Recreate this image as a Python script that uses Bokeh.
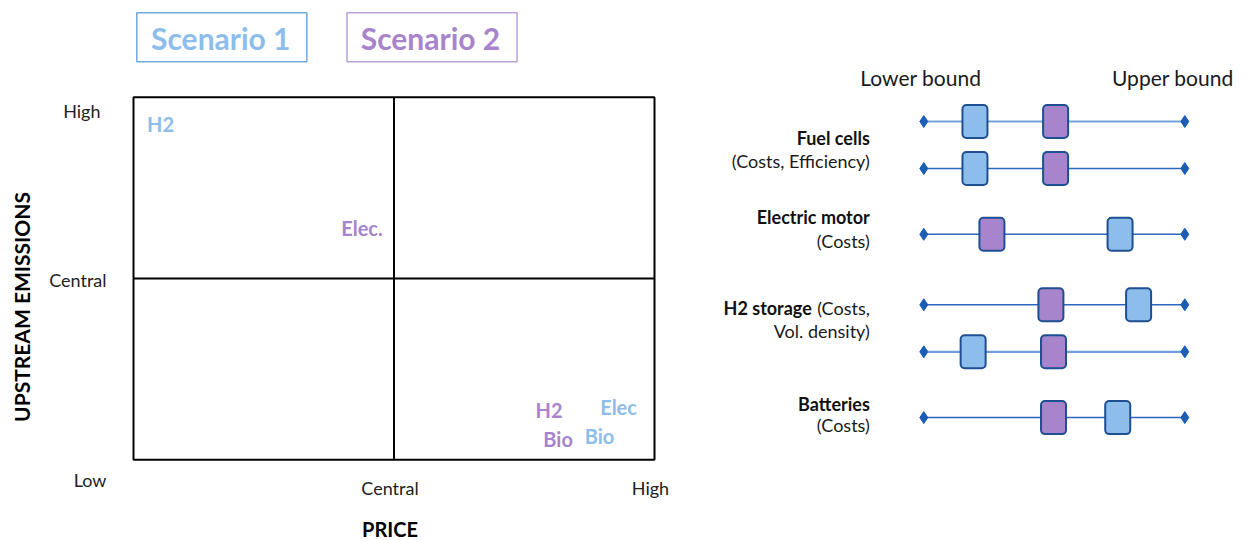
import math
from bokeh.plotting import figure
from bokeh.layouts import row
from bokeh.models import Range1d, ColumnDataSource
from bokeh.core.properties import value
from bokeh.embed import file_html
from bokeh.resources import INLINE

FONT = value("Lato")
BLUE = "#8DBDEB"
PURPLE = "#A884CC"
BLUE_EDGE = "#6FA8E2"
PURPLE_EDGE = "#BBA0DA"
DARK = "#222222"

# ---------------- data: quadrant (price vs upstream emissions) ----------------
levels = ["Low", "Central", "High"]          # 0, 1, 2 on both axes
level_values = [0, 1, 2]
scenarios = ["Scenario 1", "Scenario 2"]

s1_labels = ["H2", "Elec", "Bio"]
s1_price = [0.104, 1.862, 1.789]
s1_emis = [1.852, 0.290, 0.129]

s2_labels = ["Elec.", "H2", "Bio"]
s2_price = [0.877, 1.595, 1.630]
s2_emis = [1.276, 0.272, 0.117]

# ---------------- data: technology assumptions (lower..upper bound) ----------------
tech_rows = ["Fuel cells (Costs)", "Fuel cells (Efficiency)", "Electric motor (Costs)",
             "H2 storage (Costs)", "H2 storage (Vol. density)", "Batteries (Costs)"]
lower_bound = [0, 0, 0, 0, 0, 0]
upper_bound = [1, 1, 1, 1, 1, 1]
tech_s1 = [0.196, 0.196, 0.752, 0.823, 0.189, 0.743]
tech_s2 = [0.505, 0.505, 0.261, 0.487, 0.497, 0.497]

H = 540

# ---------------- left figure ----------------
L = figure(width=708, height=H, output_backend="svg", toolbar_location=None,
           x_range=Range1d(-0.51056, 2.2073), y_range=Range1d(2.5334 - H / 181.3, 2.5334),
           x_axis_type=None, y_axis_type=None, min_border=0, title=None)
L.outline_line_color = None
L.grid.visible = False
L.background_fill_color = "white"

# quadrant box and central lines
L.quad(left=[level_values[0]], right=[level_values[-1]], bottom=[level_values[0]], top=[level_values[-1]],
       fill_color=None, line_color="black", line_width=2)
L.segment(x0=[level_values[1], level_values[0]], y0=[level_values[0], level_values[1]],
          x1=[level_values[1], level_values[-1]], y1=[level_values[-1], level_values[1]],
          line_color="black", line_width=2)

# scenario labels in the quadrants
L.text(x=s1_price, y=s1_emis, text=s1_labels, text_color=BLUE, text_font=FONT,
       text_font_style="bold", text_font_size="20px", text_align="center", text_baseline="middle")
L.text(x=s2_price, y=s2_emis, text=s2_labels, text_color=PURPLE, text_font=FONT,
       text_font_style="bold", text_font_size="20px", text_align="center", text_baseline="middle")

# scenario header boxes
L.rect(x=[0.339, 1.146], y=[2.331, 2.331], width=170, height=49,
       width_units="screen", height_units="screen", fill_color="white",
       line_color=[BLUE_EDGE, PURPLE_EDGE], line_width=1.5)
L.text(x=[0.335, 1.140], y=[2.326, 2.326], text=scenarios, text_color=[BLUE, PURPLE],
       text_font=FONT, text_font_style="bold", text_font_size="30px",
       text_align="center", text_baseline="middle")

# axis tick labels
L.text(x=[level_values[1], level_values[2]], y=[-0.155, -0.155], text=levels[1:],
       x_offset=-4, text_color=DARK, text_font=FONT, text_font_size="18px",
       text_align="center", text_baseline="middle")
L.text(x=[0, 0, 0], y=[-0.114, 0.989, 1.923], text=levels, x_offset=[-27, -27, -33],
       text_color=DARK, text_font=FONT, text_font_size="18px",
       text_align="right", text_baseline="middle")

# axis titles
L.text(x=[1], y=[-0.383], text=["PRICE"], x_offset=-4, text_color="black", text_font=FONT,
       text_font_style="bold", text_font_size="20px", text_align="center", text_baseline="middle")
L.text(x=[-0.43], y=[0.857], text=["UPSTREAM  EMISSIONS"], angle=math.pi / 2,
       text_color="black", text_font=FONT, text_font_style="bold", text_font_size="21px",
       text_align="center", text_baseline="middle")

# ---------------- right figure ----------------
row_slot = [0, 1, 2.4, 3.9, 4.9, 6.3]          # vertical layout of the rows
row_line_color = ["#74A3DC", "#2B68BD", "#2B68BD", "#2B68BD", "#6E9FDC", "#2B68BD"]
row_line_width = [2.2, 1.5, 1.5, 1.5, 2.2, 1.5]

R = figure(width=532, height=H, output_backend="svg", toolbar_location=None,
           x_range=Range1d(-0.8249, 1.2134), y_range=Range1d((H - 121) / 47, -121 / 47),
           x_axis_type=None, y_axis_type=None, min_border=0, title=None)
R.outline_line_color = None
R.grid.visible = False

src = ColumnDataSource(dict(lo=lower_bound, hi=upper_bound, y=row_slot, s1=tech_s1, s2=tech_s2,
                            lc=row_line_color, lw=row_line_width))
R.segment(x0="lo", x1="hi", y0="y", y1="y", line_color="lc", line_width="lw", source=src)
R.scatter(x="lo", y="y", marker="diamond", size=12, color="#1B5CB5", source=src)
R.scatter(x="hi", y="y", marker="diamond", size=12, color="#1B5CB5", source=src)
R.rect(x="s1", y="y", width=25, height=33, width_units="screen", height_units="screen",
       fill_color=BLUE, line_color="#1E4F92", line_width=2, border_radius=4, source=src)
R.rect(x="s2", y="y", width=25, height=33, width_units="screen", height_units="screen",
       fill_color=PURPLE, line_color="#1E4F92", line_width=2, border_radius=4, source=src)

# bound headers
R.text(x=[lower_bound[0], upper_bound[0]], y=[-0.936, -0.936], text=["Lower bound", "Upper bound"],
       x_offset=[-3, -12], text_color="#1a1a1a", text_font=FONT, text_font_size="21px",
       text_align="center", text_baseline="middle")

# category labels (bold names and plain details)
R.text(x=[0, 0, 0, 0], y=[0.347, 2.036, 3.972, 6.006],
       text=["Fuel cells", "Electric motor", "H2 storage", "Batteries"],
       x_offset=[-54, -54, -112, -54], text_color="#111111", text_font=FONT,
       text_font_style="bold", text_font_size="18px", text_align="right", text_baseline="middle")
R.text(x=[0, 0, 0, 0, 0], y=[0.845, 2.532, 3.972, 4.462, 6.468],
       text=["(Costs, Efficiency)", "(Costs)", "(Costs,", "Vol. density)", "(Costs)"],
       x_offset=-54, text_color="#1a1a1a", text_font=FONT, text_font_size="18px",
       text_align="right", text_baseline="middle")

layout = row(L, R)
open("out.html", "w").write(file_html(layout, INLINE))
